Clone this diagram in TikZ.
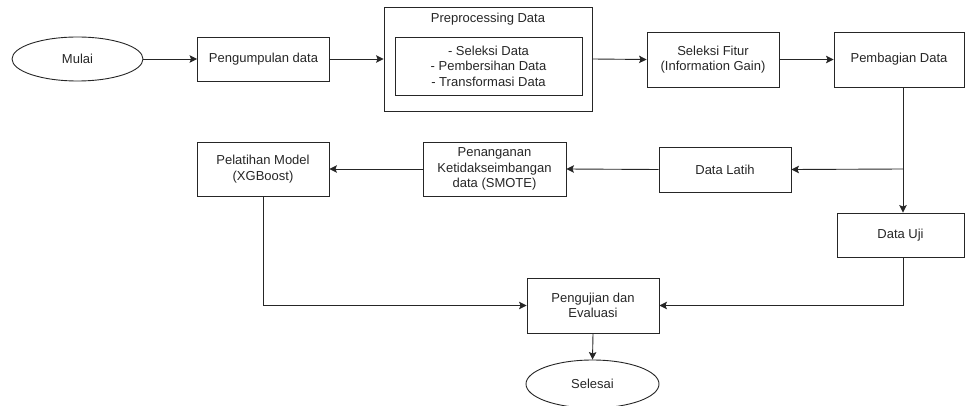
\documentclass[tikz,border=0pt]{standalone}
\usepackage{fontspec}
\setmainfont{Liberation Sans}
\usetikzlibrary{arrows.meta,shapes.geometric,calc}
\begin{document}
\begin{tikzpicture}[x=1pt,y=-1pt,
  every node/.style={font=\fontsize{13}{15.5}\selectfont, text=black!85},
  box/.style={draw=black!85, line width=0.9pt, rectangle, align=center, inner sep=0pt},
  oval/.style={draw=black!85, line width=0.9pt, ellipse, inner sep=0pt},
  conn/.style={draw=black!85, line width=0.9pt},
  arr/.style={conn, -{Stealth[length=7.5pt,width=7.5pt,inset=1.5pt]}}]
\useasboundingbox (0,0) rectangle (965,406);
\node[oval, minimum width=131pt, minimum height=44pt] (mulai) at (77.5,59) {Mulai};
\node[box, minimum width=132pt, minimum height=44pt] (kumpul) at (263.5,59) {Pengumpulan data};
\node[box, minimum width=208pt, minimum height=104pt] (pre) at (488,59) {};
\node (pretitle) at (488,19) {Preprocessing Data};
\node[box, minimum width=187pt, minimum height=58pt] (preinner) at (488.5,66) {- Seleksi Data\\- Pembersihan Data\\- Transformasi Data};
\node[box, minimum width=132pt, minimum height=55pt] (fitur) at (713,59.5) {Seleksi Fitur\\(Information Gain)};
\node[box, minimum width=130pt, minimum height=55pt] (bagi) at (899,59.5) {Pembagian Data};
\node[box, minimum width=132pt, minimum height=45pt] (latih) at (725,169.5) {Data Latih};
\node[box, minimum width=143pt, minimum height=54pt] (smote) at (494.5,169) {Penanganan\\Ketidakseimbangan\\data (SMOTE)};
\node[box, minimum width=132pt, minimum height=54pt] (model) at (263,169) {Pelatihan Model\\(XGBoost)};
\node[box, minimum width=127pt, minimum height=44pt] (uji) at (900.5,235) {Data Uji};
\node[box, minimum width=132pt, minimum height=55pt] (eval) at (593,305.5) {Pengujian dan\\Evaluasi};
\node[oval, minimum width=133pt, minimum height=48pt] (selesai) at (592.5,384) {Selesai};
\coordinate (sp) at (903,169);
\draw[arr] (mulai.east) -- (kumpul.west);
\draw[arr] (kumpul.east) -- (pre.west);
\draw[arr] (pre.east) -- (fitur.west);
\draw[arr] (fitur.east) -- (bagi.west);
\draw[conn] (bagi.south -| sp) -- (sp);
\draw[arr] (sp) -- (uji.north -| sp);
\draw[arr] (sp) -- (latih.east);
\draw[arr] (latih.west) -- (smote.east);
\draw[arr] (smote.west) -- (model.east);
\draw[arr] (model.south) |- (eval.west);
\draw[arr] (uji.south -| sp) |- (eval.east);
\draw[arr] (eval.south) -- (selesai.north);
\end{tikzpicture}
\end{document}
